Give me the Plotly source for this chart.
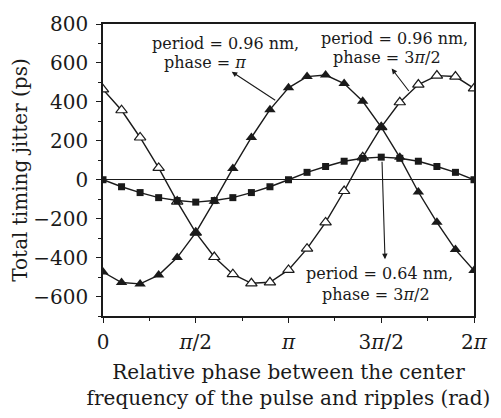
import math
import numpy as np
import plotly.graph_objects as go

# Relative phase (rad), 21 samples from 0 to 2π
phase_x = list(np.linspace(0, 2 * math.pi, 21))

# period = 0.64 nm, phase = 3π/2 (filled squares)
jitter_064_3pi2 = [0, -36, -66, -92, -107, -115, -107, -92, -66, -36, 0,
                   38, 68, 95, 110, 116, 110, 95, 68, 38, 0]
# period = 0.96 nm, phase = π (filled triangles)
jitter_096_pi = [-474, -528, -535, -490, -400, -272, -110, 58, 217, 360, 472,
                 530, 538, 494, 403, 270, 115, -63, -219, -359, -466]
# period = 0.96 nm, phase = 3π/2 (hollow triangles)
jitter_096_3pi2 = [464, 357, 217, 61, -112, -272, -397, -485, -532, -527, -463,
                   -354, -219, -58, 115, 270, 398, 489, 535, 530, 469]

x_tickvals = [0, math.pi / 2, math.pi, 3 * math.pi / 2, 2 * math.pi]
x_ticktext = ["0", "<i>π</i>/2", "<i>π</i>", "3<i>π</i>/2", "2<i>π</i>"]
y_tickvals = [-600, -400, -200, 0, 200, 400, 600, 800]

FONT = "DejaVu Serif"
INK = "#1a1a1a"

fig = go.Figure()
fig.add_trace(go.Scatter(
    x=phase_x, y=jitter_096_3pi2, mode="lines+markers",
    line=dict(color=INK, width=1.4),
    marker=dict(symbol="triangle-up", size=10, color="white",
                line=dict(color=INK, width=1.2)),
))
fig.add_trace(go.Scatter(
    x=phase_x, y=jitter_096_pi, mode="lines+markers",
    line=dict(color=INK, width=1.4),
    marker=dict(symbol="triangle-up", size=10, color=INK),
))
fig.add_trace(go.Scatter(
    x=phase_x, y=jitter_064_3pi2, mode="lines+markers",
    line=dict(color=INK, width=1.4),
    marker=dict(symbol="square", size=7, color=INK),
))

def txt(x, y, s, xanchor="center"):
    fig.add_annotation(x=x, y=y, xref="paper", yref="paper", text=s,
                       showarrow=False, xanchor=xanchor, yanchor="middle",
                       font=dict(family=FONT, size=16, color=INK))

txt(0.1267, 0.934, "period = 0.96 nm,", "left")
txt(0.159, 0.869, "phase = <i>π</i>", "left")
txt(0.787, 0.951, "period = 0.96 nm,")
txt(0.765, 0.885, "phase = 3<i>π</i>/2")
txt(0.744, 0.144, "period = 0.64 nm,")
txt(0.736, 0.072, "phase = 3<i>π</i>/2")

def arrow(hx, hy, tx, ty):
    fig.add_annotation(x=hx, y=hy, ax=tx, ay=ty, xref="x", yref="y",
                       axref="x", ayref="y", text="", showarrow=True,
                       arrowhead=2, arrowsize=1, arrowwidth=1.1,
                       arrowcolor=INK)

arrow(2.180, 555, 2.942, 403)
arrow(4.889, 571, 5.199, 448)
arrow(4.776, -408, 4.725, 100)

fig.update_layout(
    width=501, height=418,
    margin=dict(l=103, r=27, t=17, b=96),
    paper_bgcolor="white", plot_bgcolor="white",
    showlegend=False,
    font=dict(family=FONT, color=INK),
)
fig.update_xaxes(
    range=[0, 2 * math.pi], tickmode="array", tickvals=x_tickvals,
    ticktext=x_ticktext, ticks="outside", ticklen=5, tickwidth=1.3,
    tickcolor=INK, showline=True, linecolor=INK, linewidth=1.5, mirror=True,
    showgrid=False, zeroline=False, tickfont=dict(size=20, family=FONT),
    ticklabelstandoff=2,
    minor=dict(tickvals=[math.pi / 4, 3 * math.pi / 4, 5 * math.pi / 4, 7 * math.pi / 4],
               ticks="outside", ticklen=3, tickwidth=1.2, tickcolor=INK),
    title=dict(text="Relative phase between the center<br>frequency of the pulse and ripples (rad)",
               font=dict(size=20, family=FONT), standoff=12),
)
fig.update_yaxes(
    range=[-700, 800], tickmode="array", tickvals=y_tickvals,
    ticks="outside", ticklen=5, tickwidth=1.3, tickcolor=INK,
    showline=True, linecolor=INK, linewidth=1.5, mirror=True,
    showgrid=False, zeroline=True, zerolinecolor=INK, zerolinewidth=1.3,
    tickfont=dict(size=20, family=FONT), ticklabelstandoff=4,
    minor=dict(dtick=100, tick0=-700, ticks="outside", ticklen=3,
               tickwidth=1.2, tickcolor=INK),
    title=dict(text="Total timing jitter (ps)", font=dict(size=20, family=FONT),
               standoff=0),
)

fig.write_html("out.html")
